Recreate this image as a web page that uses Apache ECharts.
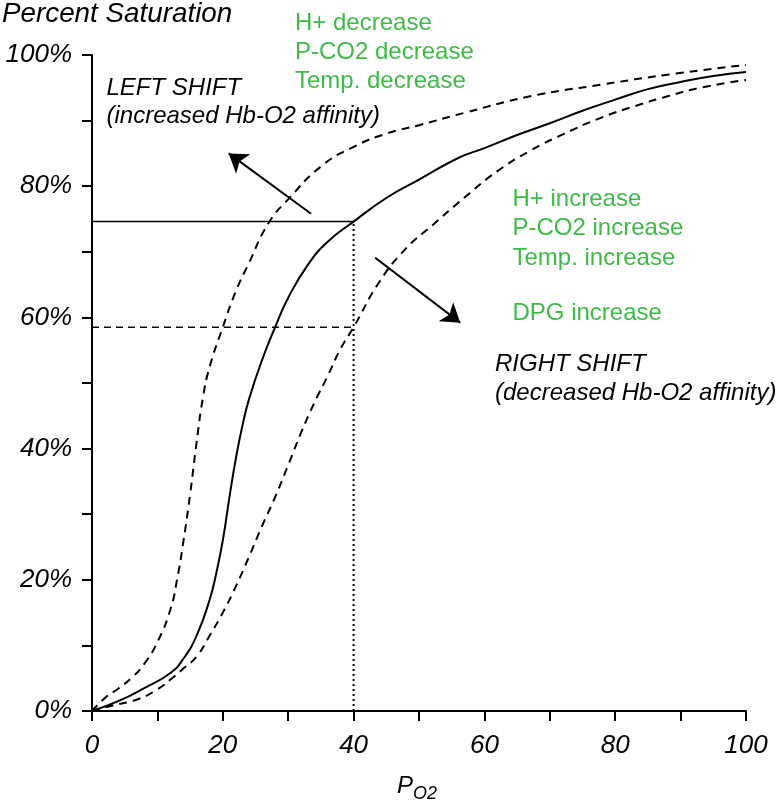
<!DOCTYPE html>
<html>
<head>
<meta charset="utf-8">
<script src="https://cdn.jsdelivr.net/npm/echarts@6/dist/echarts.min.js"></script>
<style>html,body{margin:0;padding:0;background:#fff}#c{width:784px;height:808px}</style>
</head>
<body>
<div id="c"></div>
<script>
// Oxygen-hemoglobin dissociation curves
const pO2Normal = [0,4,8,12,14,16,18,19,20,21,22,23,24,26,28,30,33,36,40,45,50,56,60,65,70,75,80,85,90,95,100];
const satNormal = [0,1.5,3.5,5.8,8,11.5,17,21,26,32.5,38.5,43.5,47.5,53.5,58.5,63,68,71.5,74.6,78.2,81,84.3,85.8,87.8,89.6,91.5,93.2,94.8,95.9,96.8,97.4];

const pO2Left = [0,2,4,6,8,10,12,13,14,15,16,17,18,20,22,24,27,30,35,40,45,50,57,67,78,88,100];
const satLeft = [0,2,3.4,5,7.2,10.5,15.5,20,26,33,41,48,52.5,58.5,64,68.3,74.4,78,83,86,88,89.3,91.2,93.7,95.5,97,98.5];

const pO2Right = [0,3,7,10,12,14,16,18,20,22,24,26,28,30,32,34,36,38,40,44,48,52,57,62,67,72,78,83,88,93,100];
const satRight = [0,0.8,1.8,3.3,4.8,6.5,8.3,11.5,15,19,23.5,28.2,32.6,37.5,42.5,47,51,55.2,58.5,65.5,70.5,74,78.3,82.3,85.4,87.9,90.5,92.2,93.7,95,96.2];

// reference lines at P_O2 = 40
const refP = 40;
const refSatNormal = 74.6;
const refSatRight = 58.5;

// shift arrows [from, to] in data coordinates
const leftArrow = [[33.5, 75.8], [20.9, 85]];
const rightArrow = [[43.3, 69.1], [56.3, 59.2]];

const xTicks = [0, 20, 40, 60, 80, 100];
const yTicks = [0, 20, 40, 60, 80, 100];

const leftTexts = ['LEFT SHIFT', '(increased Hb-O2 affinity)'];
const rightTexts = ['RIGHT SHIFT', '(decreased Hb-O2 affinity)'];
const greenTop = ['H+ decrease', 'P-CO2 decrease', 'Temp. decrease'];
const greenBottom = ['H+ increase', 'P-CO2 increase', 'Temp. increase', '', 'DPG increase'];

const zip = (a, b) => a.map((v, i) => [v, b[i]]);
const FONT = 'Liberation Sans';
const GREEN = '#3dbb45';

const chart = echarts.init(document.getElementById('c'), null, {renderer: 'canvas'});

function txt(text, x, y, size, color, italic) {
  return {type: 'text', x: x, y: y, silent: true,
    style: {text: text, fontFamily: FONT, fontSize: size, fontStyle: italic ? 'italic' : 'normal',
      fill: color, align: 'left', verticalAlign: 'middle'}};
}

const graphics = [];
graphics.push(txt('Percent Saturation', 2, 14.5, 27.8, '#000', true));
graphics.push(txt(leftTexts[0], 106.5, 88, 24, '#000', true));
graphics.push(txt(leftTexts[1], 106.5, 116.5, 24, '#000', true));
graphics.push(txt(rightTexts[0], 495, 364.5, 24, '#000', true));
graphics.push(txt(rightTexts[1], 495, 393.5, 24, '#000', true));
const gTopY = [23, 52.5, 81.5];
greenTop.forEach((t, i) => graphics.push(txt(t, 295, gTopY[i], 24, GREEN, false)));
const gBotY = [199.7, 228.3, 258, 285, 313];
greenBottom.forEach((t, i) => { if (t) graphics.push(txt(t, 512.5, gBotY[i], 24, GREEN, false)); });
graphics.push(txt('P', 397, 786.5, 24, '#000', true));
graphics.push(txt('O2', 413, 793.5, 18, '#000', true));

const axisCommon = {
  type: 'value', min: 0, max: 100, interval: 20,
  axisLine: {show: true, lineStyle: {color: '#000', width: 2}},
  axisTick: {show: true, inside: false, length: 10, lineStyle: {color: '#000', width: 2}},
  minorTick: {show: true, splitNumber: 2, length: 10, lineStyle: {color: '#000', width: 2}},
  splitLine: {show: false},
  minorSplitLine: {show: false},
  axisLabel: {color: '#000', fontFamily: FONT, fontSize: 26, fontStyle: 'italic'}
};

const curveStyle = {smooth: 0.5, showSymbol: false};

const option = {
  animation: false,
  backgroundColor: '#fff',
  grid: {left: 92, right: 38, top: 55, bottom: 97, containLabel: false},
  xAxis: Object.assign({}, axisCommon, {
    axisLabel: Object.assign({}, axisCommon.axisLabel, {margin: 22,
      formatter: v => xTicks.includes(v) ? String(v) : ''})
  }),
  yAxis: Object.assign({}, axisCommon, {
    axisLabel: Object.assign({}, axisCommon.axisLabel, {margin: 20,
      formatter: v => yTicks.includes(v) ? v + '%' : ''})
  }),
  graphic: graphics,
  series: [
    Object.assign({type: 'line', name: 'normal', data: zip(pO2Normal, satNormal),
      lineStyle: {color: '#000', width: 2}}, curveStyle),
    Object.assign({type: 'line', name: 'left', data: zip(pO2Left, satLeft),
      lineStyle: {color: '#000', width: 2, type: [8, 6]}}, curveStyle),
    Object.assign({type: 'line', name: 'right', data: zip(pO2Right, satRight),
      lineStyle: {color: '#000', width: 2, type: [8, 6]}}, curveStyle),
    {type: 'line', data: [[0, refSatNormal], [refP, refSatNormal]], showSymbol: false,
      lineStyle: {color: '#000', width: 1.5}},
    {type: 'line', data: [[0, refSatRight], [refP, refSatRight]], showSymbol: false,
      lineStyle: {color: '#000', width: 1.5, type: [7, 5]}},
    {type: 'line', data: [[refP, 0], [refP, refSatNormal]], showSymbol: false,
      lineStyle: {color: '#000', width: 2, type: [2, 3]}},
    {type: 'lines', coordinateSystem: 'cartesian2d', polyline: false,
      symbol: ['none', 'arrow'], symbolSize: [12, 18],
      lineStyle: {color: '#000', width: 2, opacity: 1, curveness: 0},
      data: [{coords: leftArrow}, {coords: rightArrow}]}
  ]
};
chart.setOption(option);
</script>
</body>
</html>
